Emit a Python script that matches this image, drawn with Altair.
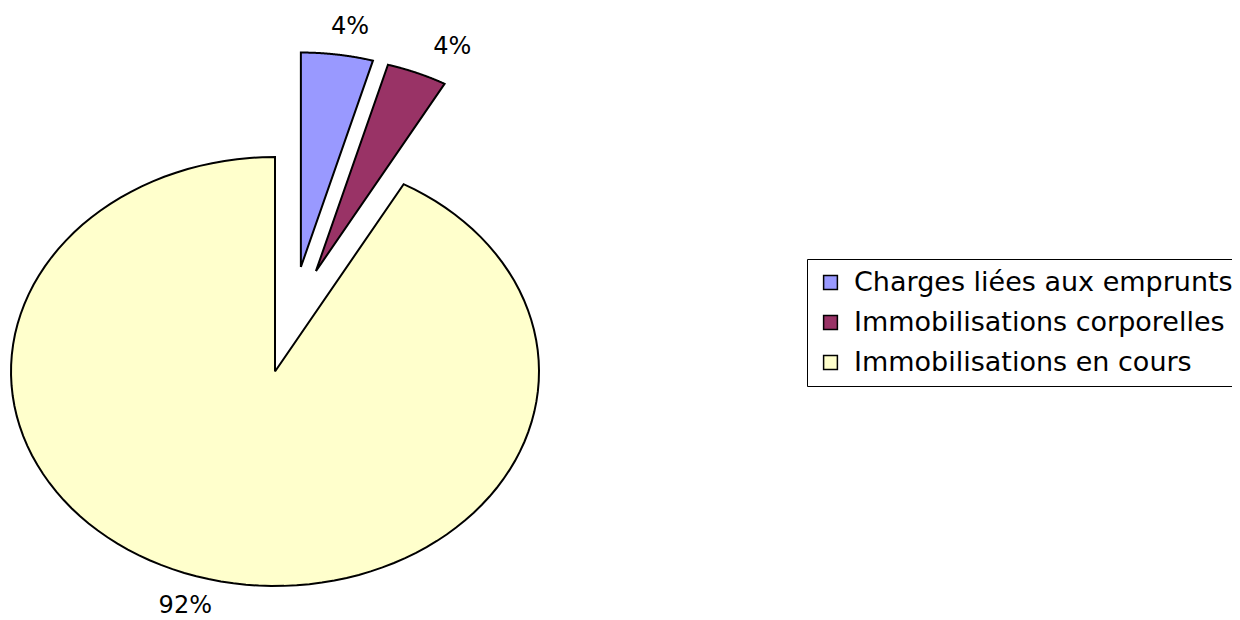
import altair as alt
import pandas as pd

# ---- data ----
categories = ["Charges liées aux emprunts", "Immobilisations corporelles", "Immobilisations en cours"]
values = [4.4, 3.7, 91.9]          # percent of total
colors = ["#9999FF", "#993366", "#FFFFCC"]

# ---- style: explosion offset of each slice (fraction of radius) ----
explode_x = [0.098, 0.155, 0.0]
explode_y = [0.487, 0.468, 0.0]

# ---- layout constants ----
W, H = 1224, 612
CX, CY = 267.0, 363.5     # pie centre in chart pixels
RX, RY = 264.0, 214.5     # pie radii in pixels (stretched pie)
N = 120                   # arc resolution
LABEL_RX, LABEL_RY = 1.35, 1.13

df = pd.DataFrame({
    "cat": categories,
    "value": values,
    "idx": list(range(len(categories))),
    "ex": explode_x,
    "ey": explode_y,
})

xscale = alt.Scale(domain=[-CX / RX, (W - CX) / RX], nice=False, zero=False)
yscale = alt.Scale(domain=[-(H - CY) / RY, CY / RY], nice=False, zero=False)

base = alt.Chart(df).transform_window(
    cum="sum(value)", sort=[alt.SortField("idx")], frame=[None, 0]
).transform_joinaggregate(
    total="sum(value)"
).transform_calculate(
    a0="2*PI*(datum.cum - datum.value)/datum.total",
    a1="2*PI*datum.cum/datum.total",
)

slices = base.transform_calculate(
    s=f"sequence(0, {N + 3})"
).transform_flatten(
    ["s"]
).transform_calculate(
    apex=f"datum.s == 0 || datum.s == {N + 2}",
    ang=f"datum.a0 + (datum.a1 - datum.a0) * clamp((datum.s - 1) / {N}, 0, 1)",
).transform_calculate(
    px="datum.apex ? datum.ex : datum.ex + sin(datum.ang)",
    py="datum.apex ? datum.ey : datum.ey + cos(datum.ang)",
).mark_line(strokeJoin="miter", interpolate="linear").encode(
    x=alt.X("px:Q", scale=xscale, axis=None),
    y=alt.Y("py:Q", scale=yscale, axis=None),
    order=alt.Order("s:Q"),
    detail="cat:N",
    fill=alt.Fill(
        "cat:N",
        scale=alt.Scale(domain=categories, range=colors),
        legend=alt.Legend(
            title=None,
            orient="none",
            legendX=799,
            legendY=251,
            fillColor="white",
            strokeColor="black",
            padding=10,
            symbolType="square",
            symbolSize=190,
            symbolStrokeColor="black",
            symbolStrokeWidth=1.5,
            symbolOpacity=1,
            labelFont="DejaVu Sans",
            labelFontSize=27,
            labelColor="black",
            labelOffset=10,
            labelLimit=0,
            rowPadding=12,
        ),
    ),
    stroke=alt.value("black"),
    strokeWidth=alt.value(2),
)

labels = base.transform_calculate(
    mid="(datum.a0 + datum.a1)/2",
).transform_calculate(
    lx=f"datum.ex + {LABEL_RX}*sin(datum.mid)",
    ly=f"datum.ey + {LABEL_RY}*cos(datum.mid)",
    label="format(datum.value/100, '.0%')",
).mark_text(font="DejaVu Sans", fontSize=24, color="black", align="center", baseline="middle").encode(
    x=alt.X("lx:Q", scale=xscale, axis=None),
    y=alt.Y("ly:Q", scale=yscale, axis=None),
    text="label:N",
)

chart = alt.layer(slices, labels).properties(
    width=W,
    height=H,
    autosize=alt.AutoSizeParams(type="none"),
    padding=0,
    background="white",
).configure_view(stroke=None)

chart.save("out.html", embed_options={"renderer": "svg", "actions": False})
